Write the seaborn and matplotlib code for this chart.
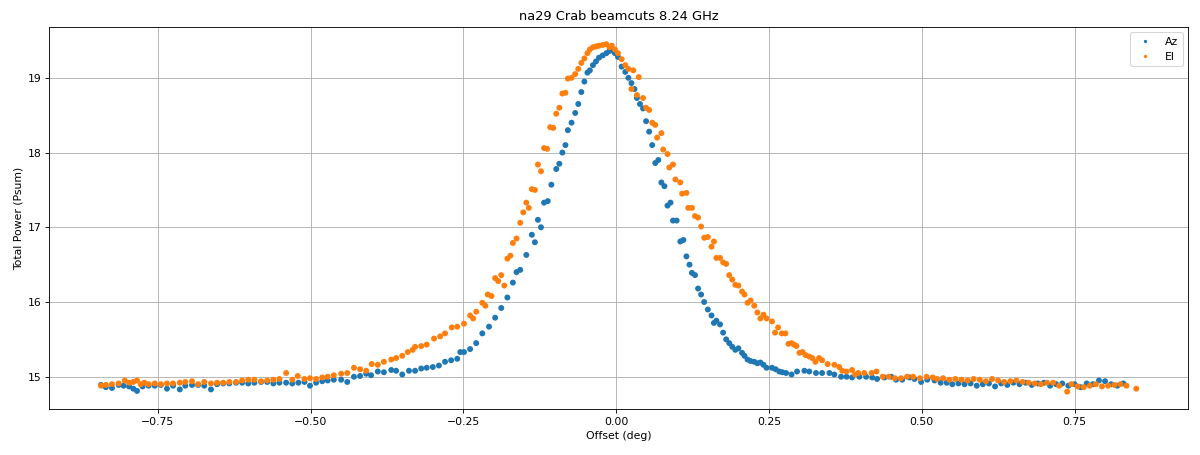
import pandas as pd
import matplotlib
matplotlib.use("Agg")
import matplotlib.pyplot as plt
import seaborn as sns

# Az scan: offset (deg) and total power
az_offset = [
    -0.843, -0.835, -0.825, -0.814, -0.806, -0.797, -0.790, -0.784, -0.775, -0.765,
    -0.755, -0.745, -0.735, -0.725, -0.714, -0.705, -0.694, -0.684, -0.674, -0.663,
    -0.653, -0.643, -0.633, -0.622, -0.612, -0.602, -0.592, -0.581, -0.571, -0.561,
    -0.551, -0.540, -0.530, -0.520, -0.510, -0.501, -0.491, -0.481, -0.472, -0.462,
    -0.450, -0.440, -0.429, -0.419, -0.409, -0.401, -0.390, -0.380, -0.368, -0.360,
    -0.350, -0.339, -0.329, -0.319, -0.310, -0.300, -0.290, -0.280, -0.270, -0.260,
    -0.255, -0.249, -0.239, -0.229, -0.219, -0.208, -0.198, -0.188, -0.178, -0.169,
    -0.163, -0.157, -0.147, -0.138, -0.133, -0.128, -0.123, -0.118, -0.112, -0.106,
    -0.098, -0.093, -0.088, -0.083, -0.079, -0.073, -0.067, -0.062, -0.057, -0.052,
    -0.047, -0.043, -0.038, -0.033, -0.028, -0.022, -0.016, -0.011, -0.007, -0.002,
    0.003, 0.009, 0.015, 0.020, 0.025, 0.030, 0.034, 0.039, 0.044, 0.049,
    0.054, 0.059, 0.064, 0.069, 0.074, 0.079, 0.084, 0.089, 0.093, 0.099,
    0.105, 0.110, 0.115, 0.120, 0.124, 0.129, 0.134, 0.139, 0.144, 0.150,
    0.156, 0.160, 0.164, 0.170, 0.175, 0.180, 0.185, 0.190, 0.195, 0.200,
    0.206, 0.210, 0.215, 0.220, 0.226, 0.231, 0.236, 0.241, 0.246, 0.255,
    0.261, 0.267, 0.272, 0.278, 0.287, 0.296, 0.308, 0.316, 0.327, 0.337,
    0.349, 0.357, 0.368, 0.377, 0.386, 0.398, 0.409, 0.419, 0.427, 0.439,
    0.450, 0.458, 0.468, 0.480, 0.488, 0.499, 0.509, 0.521, 0.531, 0.541,
    0.550, 0.560, 0.570, 0.580, 0.590, 0.600, 0.610, 0.620, 0.630, 0.640,
    0.650, 0.660, 0.670, 0.680, 0.690, 0.700, 0.710, 0.720, 0.730, 0.740,
    0.750, 0.760, 0.770, 0.780, 0.790, 0.800, 0.810, 0.820, 0.830,
]
az_power = [
    14.89, 14.86, 14.85, 14.89, 14.88, 14.87, 14.84, 14.81, 14.87, 14.88,
    14.88, 14.89, 14.84, 14.88, 14.83, 14.88, 14.89, 14.89, 14.88, 14.83,
    14.90, 14.91, 14.91, 14.92, 14.92, 14.91, 14.92, 14.93, 14.93, 14.91,
    14.92, 14.92, 14.91, 14.92, 14.93, 14.88, 14.92, 14.94, 14.95, 14.96,
    14.96, 14.93, 15.00, 15.01, 15.04, 15.02, 15.07, 15.06, 15.09, 15.08,
    15.03, 15.08, 15.08, 15.11, 15.12, 15.13, 15.15, 15.20, 15.22, 15.24,
    15.33, 15.33, 15.37, 15.45, 15.58, 15.67, 15.79, 15.92, 16.06, 16.26,
    16.40, 16.43, 16.63, 16.90, 16.80, 17.10, 17.00, 17.33, 17.35, 17.57,
    17.78, 17.85, 18.00, 18.10, 18.30, 18.40, 18.53, 18.65, 18.81, 18.95,
    19.07, 19.10, 19.17, 19.22, 19.27, 19.30, 19.33, 19.36, 19.37, 19.33,
    19.28, 19.15, 19.08, 19.00, 18.93, 18.85, 18.73, 18.65, 18.59, 18.42,
    18.28, 18.10, 17.86, 17.90, 17.60, 17.55, 17.29, 17.33, 17.09, 17.09,
    16.81, 16.83, 16.61, 16.50, 16.39, 16.36, 16.18, 16.10, 16.00, 15.90,
    15.82, 15.72, 15.75, 15.70, 15.59, 15.50, 15.45, 15.40, 15.36, 15.38,
    15.32, 15.28, 15.23, 15.21, 15.20, 15.18, 15.19, 15.16, 15.12, 15.12,
    15.10, 15.07, 15.06, 15.05, 15.03, 15.07, 15.08, 15.07, 15.05, 15.05,
    15.05, 15.03, 15.00, 15.00, 14.99, 15.00, 15.00, 14.99, 14.97, 14.99,
    15.00, 14.96, 14.96, 14.99, 14.97, 14.93, 14.96, 14.95, 14.92, 14.92,
    14.90, 14.91, 14.90, 14.91, 14.88, 14.90, 14.91, 14.87, 14.91, 14.89,
    14.92, 14.90, 14.92, 14.89, 14.91, 14.92, 14.88, 14.90, 14.91, 14.88,
    14.90, 14.86, 14.91, 14.90, 14.95, 14.94, 14.90, 14.88, 14.91,
]

# El scan: offset (deg) and total power
el_offset = [
    -0.843, -0.835, -0.825, -0.814, -0.804, -0.797, -0.790, -0.784, -0.778, -0.772,
    -0.765, -0.755, -0.745, -0.735, -0.725, -0.714, -0.705, -0.694, -0.684, -0.674,
    -0.663, -0.653, -0.643, -0.633, -0.622, -0.612, -0.602, -0.592, -0.581, -0.571,
    -0.561, -0.551, -0.540, -0.530, -0.521, -0.510, -0.501, -0.491, -0.481, -0.472,
    -0.462, -0.450, -0.440, -0.429, -0.419, -0.409, -0.400, -0.390, -0.380, -0.368,
    -0.360, -0.350, -0.341, -0.333, -0.329, -0.319, -0.310, -0.298, -0.288, -0.280,
    -0.269, -0.260, -0.249, -0.239, -0.234, -0.229, -0.219, -0.214, -0.210, -0.204,
    -0.198, -0.193, -0.188, -0.183, -0.178, -0.173, -0.169, -0.163, -0.157, -0.152,
    -0.147, -0.143, -0.138, -0.133, -0.128, -0.123, -0.118, -0.113, -0.108, -0.103,
    -0.098, -0.093, -0.088, -0.083, -0.079, -0.073, -0.067, -0.062, -0.057, -0.052,
    -0.047, -0.043, -0.038, -0.033, -0.028, -0.022, -0.016, -0.011, -0.007, -0.002,
    0.003, 0.009, 0.015, 0.020, 0.025, 0.028, 0.034, 0.037, 0.044, 0.049,
    0.054, 0.059, 0.064, 0.067, 0.074, 0.077, 0.084, 0.087, 0.093, 0.097,
    0.105, 0.108, 0.115, 0.118, 0.124, 0.129, 0.134, 0.139, 0.144, 0.150,
    0.156, 0.160, 0.164, 0.170, 0.175, 0.180, 0.185, 0.190, 0.195, 0.200,
    0.206, 0.210, 0.215, 0.220, 0.226, 0.231, 0.236, 0.241, 0.246, 0.255,
    0.260, 0.265, 0.271, 0.277, 0.282, 0.287, 0.291, 0.295, 0.300, 0.305,
    0.310, 0.316, 0.321, 0.326, 0.332, 0.337, 0.346, 0.357, 0.365, 0.370,
    0.377, 0.386, 0.391, 0.396, 0.406, 0.418, 0.426, 0.436, 0.446, 0.456,
    0.466, 0.476, 0.486, 0.497, 0.508, 0.518, 0.525, 0.535, 0.545, 0.555,
    0.565, 0.575, 0.585, 0.595, 0.605, 0.615, 0.625, 0.635, 0.645, 0.655,
    0.665, 0.675, 0.685, 0.695, 0.705, 0.715, 0.725, 0.738, 0.745, 0.755,
    0.765, 0.775, 0.785, 0.795, 0.805, 0.815, 0.825, 0.835, 0.851,
]
el_power = [
    14.88, 14.89, 14.90, 14.91, 14.95, 14.92, 14.93, 14.95, 14.90, 14.92,
    14.90, 14.91, 14.90, 14.91, 14.91, 14.92, 14.93, 14.94, 14.90, 14.93,
    14.91, 14.92, 14.92, 14.93, 14.93, 14.95, 14.96, 14.96, 14.94, 14.95,
    14.96, 14.97, 15.05, 14.96, 15.01, 14.97, 14.98, 14.97, 14.99, 15.00,
    15.02, 15.04, 15.05, 15.12, 15.10, 15.08, 15.17, 15.16, 15.20, 15.23,
    15.25, 15.28, 15.33, 15.36, 15.40, 15.41, 15.43, 15.51, 15.54, 15.58,
    15.66, 15.67, 15.71, 15.82, 15.78, 15.87, 15.99, 15.95, 16.10, 16.08,
    16.32, 16.28, 16.36, 16.22, 16.58, 16.62, 16.79, 16.85, 17.06, 17.20,
    17.33, 17.26, 17.51, 17.50, 17.84, 17.75, 18.06, 18.05, 18.34, 18.33,
    18.52, 18.60, 18.79, 18.80, 18.99, 19.00, 19.05, 19.12, 19.20, 19.26,
    19.33, 19.38, 19.41, 19.42, 19.43, 19.44, 19.45, 19.41, 19.43, 19.38,
    19.33, 19.25, 19.17, 19.12, 18.85, 19.10, 18.77, 19.01, 18.73, 18.60,
    18.57, 18.40, 18.37, 18.20, 18.26, 18.04, 17.98, 17.80, 17.84, 17.64,
    17.60, 17.45, 17.46, 17.26, 17.26, 17.15, 17.13, 17.01, 16.86, 16.87,
    16.74, 16.81, 16.59, 16.59, 16.53, 16.51, 16.36, 16.30, 16.23, 16.22,
    16.14, 16.10, 15.99, 16.02, 15.95, 15.86, 15.78, 15.83, 15.78, 15.74,
    15.59, 15.66, 15.58, 15.58, 15.44, 15.45, 15.43, 15.41, 15.32, 15.33,
    15.29, 15.27, 15.25, 15.20, 15.25, 15.22, 15.17, 15.16, 15.13, 15.08,
    15.07, 15.09, 15.03, 15.05, 15.05, 15.05, 15.07, 15.00, 15.00, 14.98,
    14.98, 15.00, 15.00, 14.98, 15.00, 14.99, 14.97, 14.98, 14.96, 14.97,
    14.96, 14.95, 14.97, 14.96, 14.94, 14.97, 14.95, 14.93, 14.94, 14.95,
    14.93, 14.92, 14.91, 14.90, 14.92, 14.92, 14.88, 14.80, 14.90, 14.87,
    14.86, 14.88, 14.90, 14.87, 14.88, 14.89, 14.90, 14.88, 14.84,
]

df = pd.concat([
    pd.DataFrame({"offset": az_offset, "power": az_power, "scan": "Az"}),
    pd.DataFrame({"offset": el_offset, "power": el_power, "scan": "El"}),
])

# low dpi so the text comes out small, like the reference
DPI = 78
fig, ax = plt.subplots(figsize=(1200 / DPI, 455 / DPI), dpi=DPI)
sns.scatterplot(data=df, x="offset", y="power", hue="scan",
                palette=["#1f77b4", "#ff7f0e"], s=30, linewidth=0, ax=ax)
ax.grid(True)
ax.set_axisbelow(True)
ax.set_title("na29 Crab beamcuts 8.24 GHz")
ax.set_xlabel("Offset (deg)")
ax.set_ylabel("Total Power (Psum)")
ax.legend(title=None, loc="upper right", markerscale=0.55)
fig.subplots_adjust(left=0.041, right=0.99, top=0.941, bottom=0.101)
fig.savefig("out.png", dpi=DPI)
